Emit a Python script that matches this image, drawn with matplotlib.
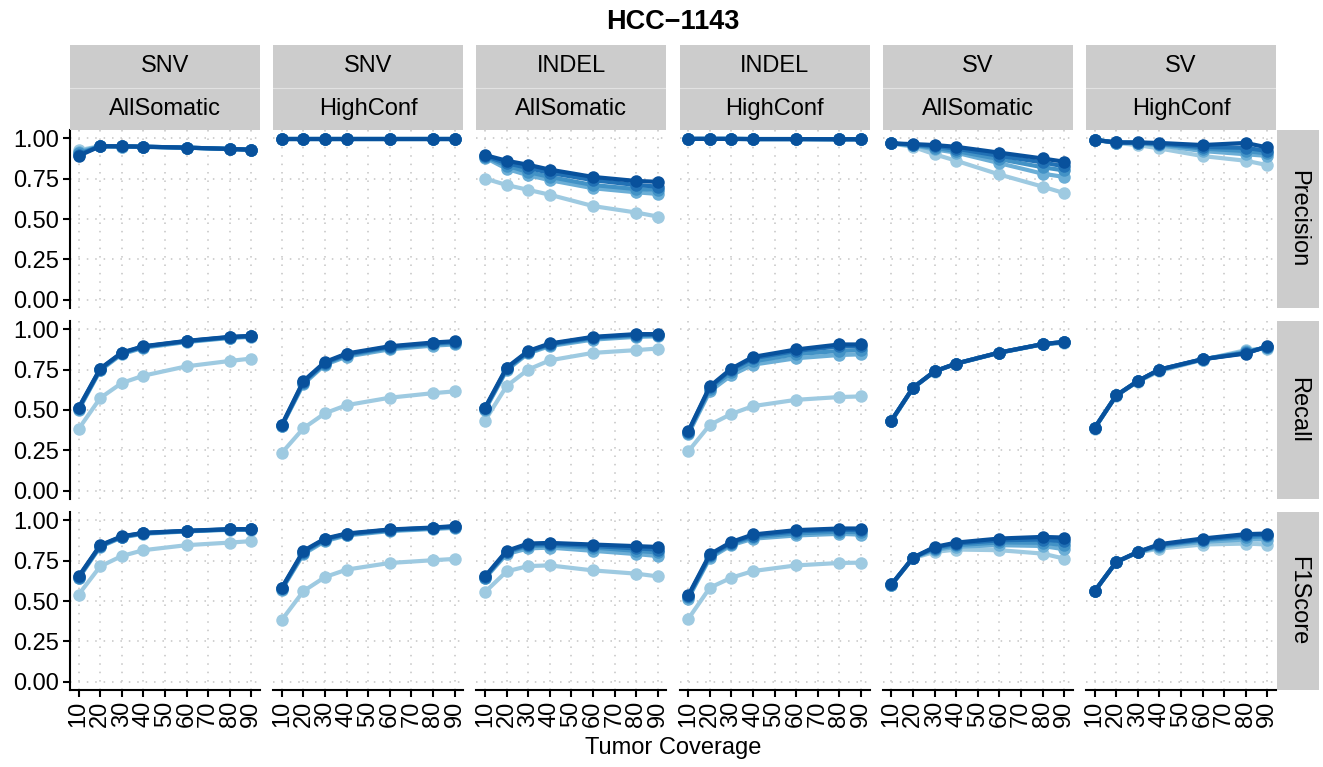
import matplotlib
matplotlib.use("Agg")
import matplotlib.pyplot as plt

plt.rcParams['font.family'] = ['Liberation Sans', 'DejaVu Sans']

coverage = [10, 20, 30, 40, 60, 80, 90]
x_ticks = [10, 20, 30, 40, 50, 60, 70, 80, 90]
y_ticks = [0.0, 0.25, 0.5, 0.75, 1.0]
variant_types = ['SNV', 'SNV', 'INDEL', 'INDEL', 'SV', 'SV']
call_sets = ['AllSomatic', 'HighConf', 'AllSomatic', 'HighConf', 'AllSomatic', 'HighConf']
metrics = ['Precision', 'Recall', 'F1Score']
blues = ['#9ecae1', '#6baed6', '#4292c6', '#2171b5', '#08519c']

# each panel: 5 series (light -> dark), values at each coverage
prec_snv_all = [
    [0.925, 0.95, 0.948, 0.945, 0.94, 0.933, 0.928],
    [0.915, 0.95, 0.948, 0.946, 0.941, 0.933, 0.928],
    [0.905, 0.95, 0.949, 0.947, 0.941, 0.933, 0.928],
    [0.897, 0.95, 0.949, 0.947, 0.941, 0.933, 0.928],
    [0.89, 0.95, 0.949, 0.947, 0.941, 0.933, 0.928],
]
prec_snv_hc = [
    [0.997, 0.997, 0.997, 0.997, 0.997, 0.997, 0.997],
    [0.997, 0.997, 0.997, 0.997, 0.997, 0.997, 0.997],
    [0.997, 0.997, 0.997, 0.997, 0.997, 0.997, 0.997],
    [0.997, 0.997, 0.997, 0.997, 0.997, 0.997, 0.997],
    [0.997, 0.997, 0.997, 0.997, 0.997, 0.997, 0.997],
]
prec_indel_all = [
    [0.75, 0.71, 0.68, 0.65, 0.58, 0.54, 0.515],
    [0.88, 0.81, 0.77, 0.74, 0.69, 0.665, 0.655],
    [0.885, 0.83, 0.79, 0.76, 0.71, 0.685, 0.68],
    [0.89, 0.845, 0.815, 0.785, 0.74, 0.71, 0.70],
    [0.895, 0.86, 0.835, 0.805, 0.76, 0.735, 0.73],
]
prec_indel_hc = [
    [0.995, 0.995, 0.995, 0.994, 0.994, 0.993, 0.993],
    [0.995, 0.995, 0.995, 0.994, 0.994, 0.993, 0.993],
    [0.995, 0.995, 0.995, 0.994, 0.994, 0.993, 0.993],
    [0.995, 0.995, 0.995, 0.994, 0.994, 0.993, 0.993],
    [0.995, 0.995, 0.995, 0.994, 0.994, 0.993, 0.993],
]
prec_sv_all = [
    [0.967, 0.946, 0.90, 0.86, 0.775, 0.70, 0.66],
    [0.967, 0.955, 0.93, 0.91, 0.845, 0.78, 0.76],
    [0.967, 0.958, 0.94, 0.92, 0.87, 0.82, 0.80],
    [0.967, 0.96, 0.95, 0.935, 0.89, 0.85, 0.825],
    [0.967, 0.963, 0.957, 0.946, 0.91, 0.874, 0.854],
]
prec_sv_hc = [
    [0.988, 0.97, 0.957, 0.936, 0.889, 0.86, 0.833],
    [0.99, 0.972, 0.968, 0.955, 0.92, 0.90, 0.89],
    [0.99, 0.972, 0.97, 0.962, 0.935, 0.92, 0.905],
    [0.99, 0.973, 0.972, 0.966, 0.945, 0.94, 0.92],
    [0.988, 0.973, 0.973, 0.97, 0.957, 0.97, 0.942],
]

rec_snv_all = [
    [0.383, 0.574, 0.667, 0.712, 0.77, 0.803, 0.818],
    [0.50, 0.745, 0.845, 0.885, 0.92, 0.945, 0.952],
    [0.505, 0.75, 0.85, 0.89, 0.924, 0.948, 0.955],
    [0.51, 0.753, 0.853, 0.892, 0.926, 0.95, 0.957],
    [0.514, 0.756, 0.855, 0.894, 0.927, 0.952, 0.958],
]
rec_snv_hc = [
    [0.235, 0.387, 0.48, 0.53, 0.576, 0.604, 0.615],
    [0.40, 0.66, 0.78, 0.83, 0.875, 0.898, 0.905],
    [0.403, 0.668, 0.787, 0.838, 0.884, 0.907, 0.915],
    [0.405, 0.674, 0.792, 0.844, 0.89, 0.912, 0.92],
    [0.408, 0.679, 0.797, 0.849, 0.894, 0.917, 0.925],
]
rec_indel_all = [
    [0.435, 0.648, 0.75, 0.807, 0.853, 0.87, 0.88],
    [0.50, 0.745, 0.85, 0.895, 0.935, 0.952, 0.955],
    [0.505, 0.752, 0.856, 0.902, 0.943, 0.96, 0.962],
    [0.51, 0.757, 0.861, 0.907, 0.948, 0.965, 0.966],
    [0.514, 0.762, 0.865, 0.911, 0.952, 0.969, 0.969],
]
rec_indel_hc = [
    [0.244, 0.408, 0.476, 0.524, 0.563, 0.58, 0.584],
    [0.35, 0.615, 0.715, 0.78, 0.82, 0.84, 0.844],
    [0.36, 0.63, 0.735, 0.80, 0.845, 0.865, 0.87],
    [0.365, 0.64, 0.75, 0.82, 0.865, 0.893, 0.893],
    [0.368, 0.646, 0.756, 0.828, 0.874, 0.905, 0.905],
]
rec_sv_all = [
    [0.43, 0.636, 0.737, 0.785, 0.853, 0.905, 0.915],
    [0.432, 0.637, 0.738, 0.786, 0.854, 0.906, 0.918],
    [0.434, 0.638, 0.739, 0.787, 0.855, 0.907, 0.92],
    [0.435, 0.638, 0.739, 0.787, 0.855, 0.907, 0.921],
    [0.435, 0.638, 0.739, 0.787, 0.855, 0.907, 0.921],
]
rec_sv_hc = [
    [0.385, 0.588, 0.675, 0.74, 0.81, 0.87, 0.88],
    [0.388, 0.59, 0.678, 0.745, 0.812, 0.862, 0.886],
    [0.389, 0.59, 0.679, 0.748, 0.813, 0.856, 0.89],
    [0.389, 0.59, 0.679, 0.75, 0.814, 0.852, 0.892],
    [0.389, 0.59, 0.679, 0.75, 0.814, 0.849, 0.894],
]

f1_snv_all = [
    [0.54, 0.714, 0.778, 0.814, 0.845, 0.861, 0.87],
    [0.64, 0.835, 0.893, 0.915, 0.93, 0.94, 0.941],
    [0.645, 0.839, 0.896, 0.918, 0.932, 0.942, 0.942],
    [0.649, 0.842, 0.898, 0.92, 0.933, 0.943, 0.943],
    [0.652, 0.845, 0.90, 0.921, 0.934, 0.944, 0.944],
]
f1_snv_hc = [
    [0.383, 0.561, 0.648, 0.694, 0.735, 0.752, 0.76],
    [0.57, 0.79, 0.87, 0.905, 0.932, 0.945, 0.952],
    [0.575, 0.798, 0.877, 0.91, 0.936, 0.949, 0.956],
    [0.579, 0.805, 0.882, 0.914, 0.94, 0.952, 0.96],
    [0.582, 0.81, 0.886, 0.917, 0.942, 0.954, 0.963],
]
f1_indel_all = [
    [0.555, 0.683, 0.716, 0.72, 0.689, 0.669, 0.652],
    [0.64, 0.79, 0.825, 0.83, 0.81, 0.79, 0.778],
    [0.645, 0.80, 0.84, 0.843, 0.83, 0.81, 0.80],
    [0.648, 0.805, 0.848, 0.852, 0.84, 0.825, 0.818],
    [0.652, 0.81, 0.855, 0.859, 0.849, 0.839, 0.834],
]
f1_indel_hc = [
    [0.389, 0.582, 0.644, 0.685, 0.72, 0.735, 0.737],
    [0.515, 0.765, 0.845, 0.885, 0.905, 0.915, 0.91],
    [0.522, 0.775, 0.853, 0.895, 0.918, 0.928, 0.925],
    [0.53, 0.782, 0.86, 0.904, 0.93, 0.94, 0.938],
    [0.534, 0.789, 0.865, 0.911, 0.938, 0.948, 0.948],
]
f1_sv_all = [
    [0.60, 0.765, 0.803, 0.818, 0.814, 0.793, 0.762],
    [0.60, 0.767, 0.815, 0.835, 0.845, 0.84, 0.82],
    [0.60, 0.767, 0.822, 0.845, 0.862, 0.86, 0.845],
    [0.602, 0.768, 0.83, 0.855, 0.875, 0.88, 0.868],
    [0.602, 0.768, 0.834, 0.861, 0.886, 0.896, 0.892],
]
f1_sv_hc = [
    [0.56, 0.74, 0.80, 0.824, 0.849, 0.855, 0.849],
    [0.56, 0.74, 0.80, 0.835, 0.865, 0.88, 0.88],
    [0.56, 0.741, 0.802, 0.842, 0.875, 0.895, 0.90],
    [0.561, 0.741, 0.803, 0.847, 0.88, 0.905, 0.91],
    [0.561, 0.741, 0.803, 0.851, 0.886, 0.913, 0.917],
]

panels = [
    [prec_snv_all, prec_snv_hc, prec_indel_all, prec_indel_hc, prec_sv_all, prec_sv_hc],
    [rec_snv_all, rec_snv_hc, rec_indel_all, rec_indel_hc, rec_sv_all, rec_sv_hc],
    [f1_snv_all, f1_snv_hc, f1_indel_all, f1_indel_hc, f1_sv_all, f1_sv_hc],
]

W, H = 1323, 767
fig = plt.figure(figsize=(W / 100, H / 100), dpi=100)


def box(left, top, w, h):
    return [left / W, 1 - (top + h) / H, w / W, h / H]


pw, ph = 190, 178
gx = 13.2
col_left = [70 + c * (pw + gx) for c in range(6)]
row_top = [130, 321, 512]
fs = 17
strip_col = '#cccccc'

for r in range(3):
    for c in range(6):
        ax = fig.add_axes(box(col_left[c], row_top[r], pw, ph))
        for s, ys in enumerate(panels[r][c]):
            ax.plot(coverage, ys, color=blues[s], lw=3, marker='o', ms=9, mew=0, zorder=3 + s)
        ax.set_xlim(6, 94)
        ax.set_ylim(-0.05, 1.05)
        ax.set_xticks(x_ticks)
        ax.set_yticks(y_ticks)
        ax.grid(True, color='#c4c4c4', linestyle=(0, (1, 4.5)), lw=1.1)
        for sp in ['top', 'right']:
            ax.spines[sp].set_visible(False)
        ax.spines['left'].set_visible(c == 0)
        ax.spines['bottom'].set_visible(r == 2)
        ax.spines['left'].set_linewidth(1.5)
        ax.spines['bottom'].set_linewidth(1.5)
        ax.tick_params(axis='y', left=(c == 0), labelleft=(c == 0), length=5, width=1.5,
                       labelsize=fs, pad=3)
        ax.tick_params(axis='x', bottom=(r == 2), labelbottom=(r == 2), length=5, width=1.5,
                       labelsize=fs, pad=3)
        if c == 0:
            ax.set_yticklabels(['%.2f' % v for v in y_ticks])
        if r == 2:
            ax.set_xticklabels([str(v) for v in x_ticks], rotation=90, va='top', ha='center')

# top strips
for c in range(6):
    sax = fig.add_axes(box(col_left[c], 45, pw, 85))
    sax.set_facecolor(strip_col)
    sax.set_xlim(0, 1)
    sax.set_ylim(0, 1)
    sax.axhline(0.5, color='#e2e2e2', lw=0.8)
    sax.text(0.5, 0.75, variant_types[c], ha='center', va='center', fontsize=fs)
    sax.text(0.5, 0.25, call_sets[c], ha='center', va='center', fontsize=fs)
    sax.set_xticks([])
    sax.set_yticks([])
    for sp in sax.spines.values():
        sp.set_visible(False)

# right strips
for r in range(3):
    sax = fig.add_axes(box(col_left[5] + pw + 1, row_top[r], 42, ph))
    sax.set_facecolor(strip_col)
    sax.text(0.5, 0.5, metrics[r], rotation=-90, ha='center', va='center', fontsize=fs)
    sax.set_xticks([])
    sax.set_yticks([])
    for sp in sax.spines.values():
        sp.set_visible(False)

mid = (col_left[0] + col_left[5] + pw) / 2 / W
fig.text(mid, 1 - 22 / H, 'HCC\u22121143', ha='center', va='center', fontsize=19.5, fontweight='bold')
fig.text(mid, 1 - 748 / H, 'Tumor Coverage', ha='center', va='center', fontsize=fs)

fig.savefig('out.png', dpi=100)
